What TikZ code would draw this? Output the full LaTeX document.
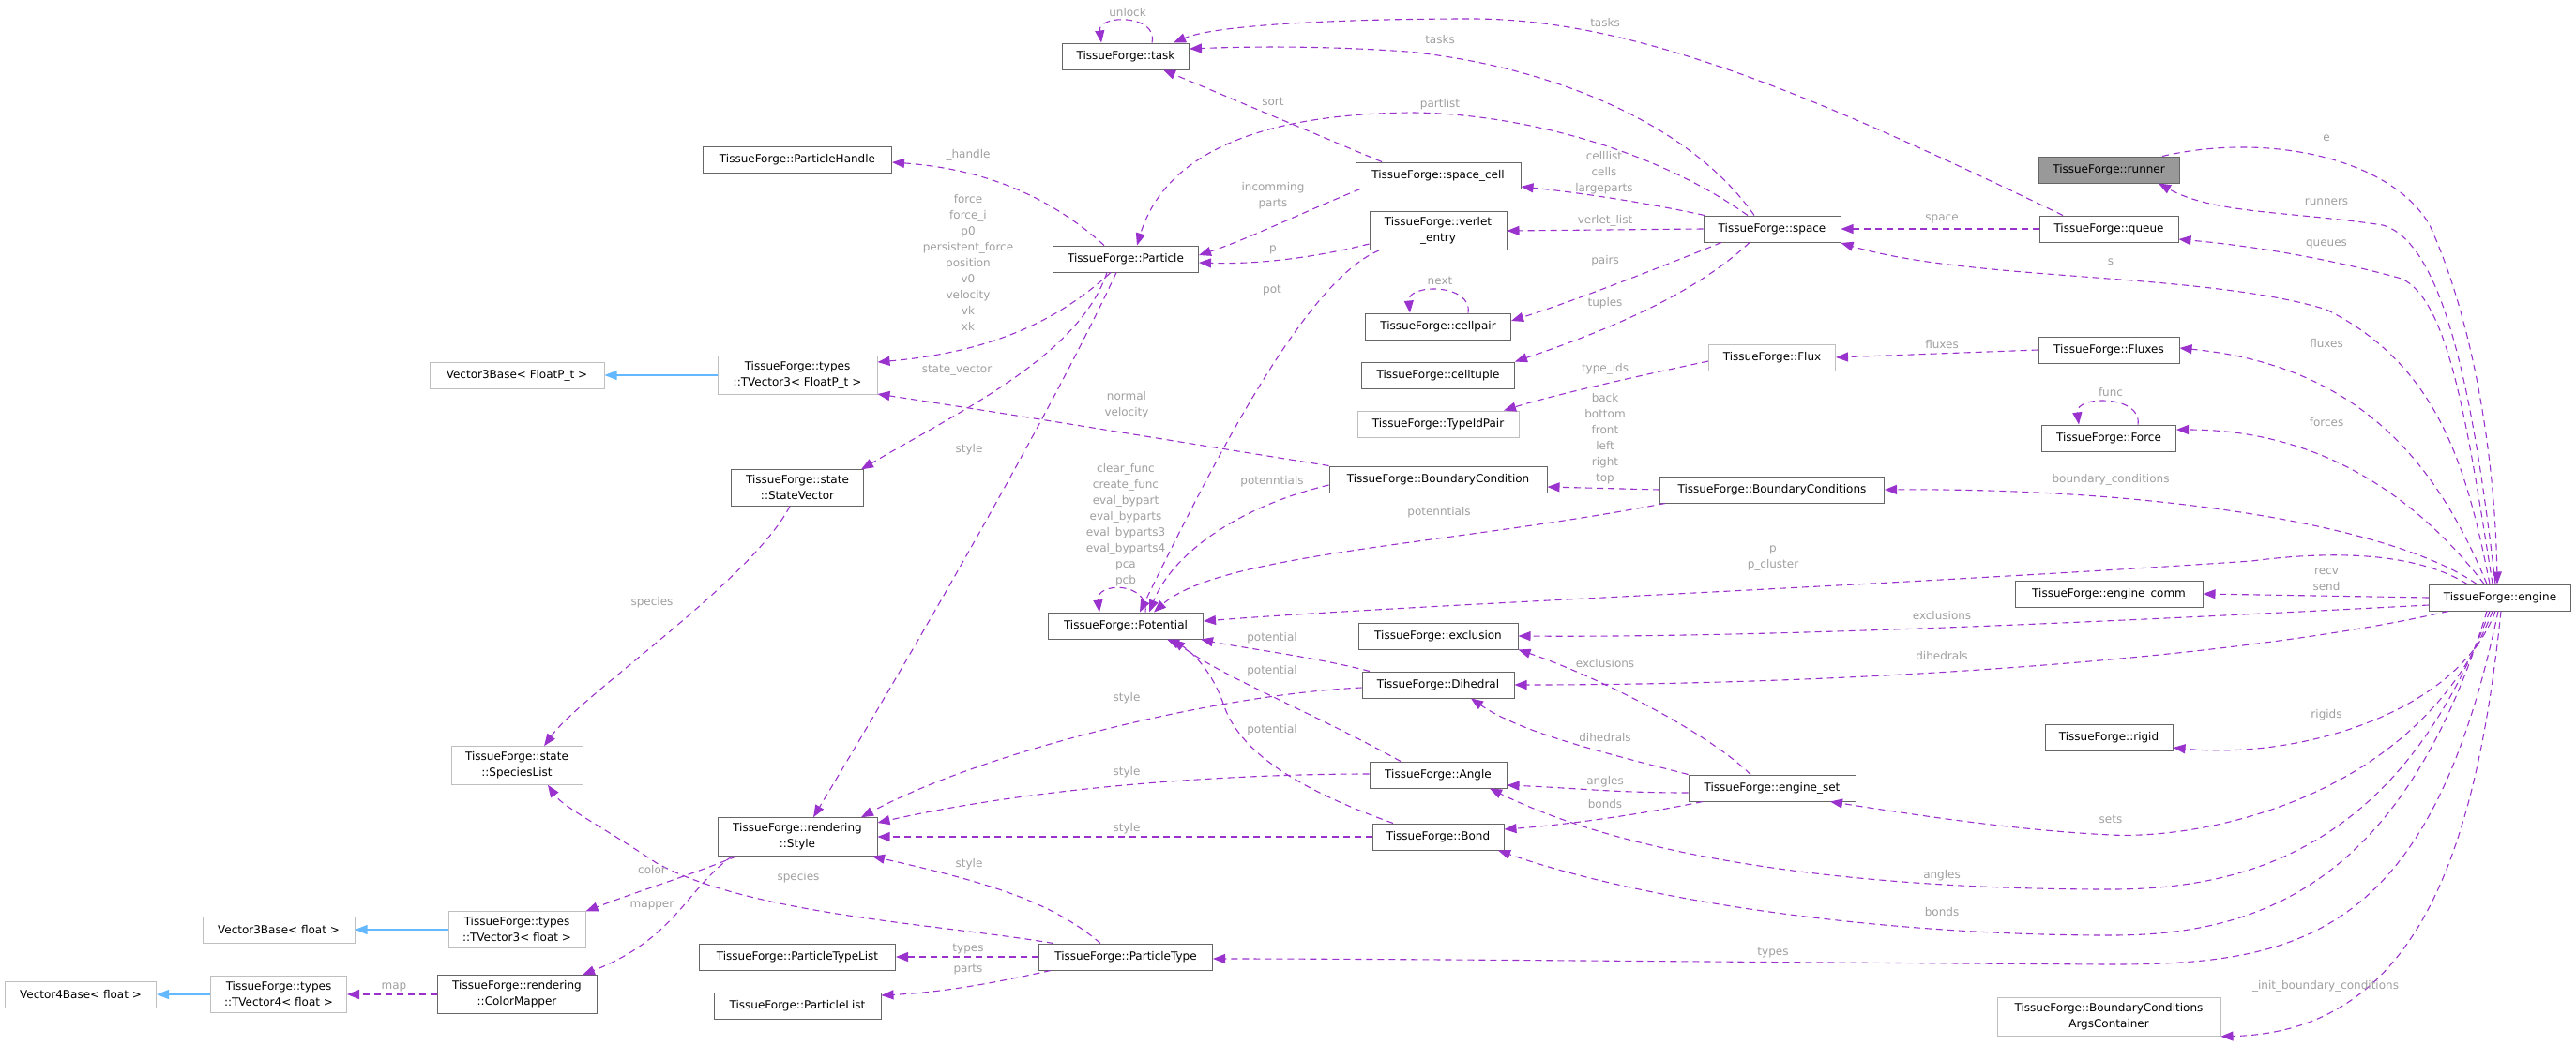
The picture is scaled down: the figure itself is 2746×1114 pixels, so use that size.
\documentclass[tikz,border=0pt]{standalone}
\usepackage{fontspec}
\setmainfont{DejaVu Sans}
\usetikzlibrary{arrows.meta,positioning}
\definecolor{edgecol}{HTML}{9A32CD}
\definecolor{inhcol}{HTML}{63B8FF}
\definecolor{lblcol}{HTML}{A0A0A0}
\definecolor{boxcol}{HTML}{666666}
\definecolor{extcol}{HTML}{BFBFBF}
\definecolor{rootcol}{HTML}{999999}

\begin{document}
\begin{tikzpicture}[x=1pt,y=-1pt,
  cls/.style={draw=boxcol,line width=1pt,fill=white,minimum height=28pt,inner xsep=4pt,inner ysep=6pt,align=center,font=\fontsize{12}{17}\selectfont},
  ext/.style={cls,draw=extcol},
  root/.style={cls,fill=rootcol},
  mem/.style={edgecol,line width=1.1pt,dash pattern=on 7pt off 5pt,-{Triangle[length=13pt,width=10pt]}},
  inh/.style={inhcol,line width=1.1pt,-{Triangle[length=13pt,width=10pt]}},
  lbl/.style={text=lblcol,align=center,inner sep=0pt,font=\fontsize{12}{17}\selectfont}]
\useasboundingbox[fill=white] (0,0) rectangle (2746,1114);

% classes
\node[cls,minimum width=135pt] (task) at (1200,60) {TissueForge::task};
\node[cls,minimum width=201pt] (phandle) at (850,170) {TissueForge::ParticleHandle};
\node[cls,minimum width=155pt] (particle) at (1200,276) {TissueForge::Particle};
\node[cls,minimum width=176pt] (spacecell) at (1533,187) {TissueForge::space\_cell};
\node[cls,minimum width=146pt] (verlet) at (1533,246) {TissueForge::verlet\\\_entry};
\node[cls,minimum width=146pt] (space) at (1889,244) {TissueForge::space};
\node[root,minimum width=150pt] (runner) at (2248,181) {TissueForge::runner};
\node[cls,minimum width=148pt] (queue) at (2248,244) {TissueForge::queue};
\node[cls,minimum width=155pt] (cellpair) at (1533,348) {TissueForge::cellpair};
\node[cls,minimum width=163pt] (celltuple) at (1533,400) {TissueForge::celltuple};
\node[ext,minimum width=135pt] (flux) at (1889,381) {TissueForge::Flux};
\node[ext,minimum width=172pt] (typeid) at (1533,452) {TissueForge::TypeIdPair};
\node[cls,minimum width=150pt] (fluxes) at (2248,373) {TissueForge::Fluxes};
\node[cls,minimum width=143pt] (force) at (2248,467) {TissueForge::Force};
\node[ext,minimum width=186pt] (vbaseP) at (551,400) {Vector3Base< FloatP\_t >};
\node[ext,minimum width=170pt] (tvecP) at (850,400) {TissueForge::types\\::TVector3< FloatP\_t >};
\node[cls,minimum width=141pt] (statevec) at (850,520) {TissueForge::state\\::StateVector};
\node[cls,minimum width=232pt] (bcond) at (1533,511) {TissueForge::BoundaryCondition};
\node[cls,minimum width=239pt] (bconds) at (1889,522) {TissueForge::BoundaryConditions};
\node[cls,minimum width=165pt] (potential) at (1200,667) {TissueForge::Potential};
\node[cls,minimum width=200pt] (ecomm) at (2248,633) {TissueForge::engine\_comm};
\node[cls,minimum width=151pt] (engine) at (2665,637) {TissueForge::engine};
\node[cls,minimum width=170pt] (exclusion) at (1533,678) {TissueForge::exclusion};
\node[cls,minimum width=162pt] (dihedral) at (1533,730) {TissueForge::Dihedral};
\node[cls,minimum width=136pt] (rigid) at (2248,786) {TissueForge::rigid};
\node[ext,minimum width=140pt] (species) at (551,816) {TissueForge::state\\::SpeciesList};
\node[cls,minimum width=146pt] (angle) at (1533,826) {TissueForge::Angle};
\node[cls,minimum width=178pt] (eset) at (1889,840) {TissueForge::engine\_set};
\node[cls,minimum width=170pt] (style) at (850,892) {TissueForge::rendering\\::Style};
\node[cls,minimum width=140pt] (bond) at (1533,892) {TissueForge::Bond};
\node[ext,minimum width=162pt] (vbase3) at (297,991) {Vector3Base< float >};
\node[ext,minimum width=146pt] (tvec3) at (551,991) {TissueForge::types\\::TVector3< float >};
\node[cls,minimum width=209pt] (ptypelist) at (850,1020) {TissueForge::ParticleTypeList};
\node[cls,minimum width=185pt] (ptype) at (1200,1020) {TissueForge::ParticleType};
\node[cls,minimum width=170pt] (colormap) at (551,1060) {TissueForge::rendering\\::ColorMapper};
\node[cls,minimum width=178pt] (plist) at (850,1072) {TissueForge::ParticleList};
\node[ext,minimum width=161pt] (vbase4) at (86,1060) {Vector4Base< float >};
\node[ext,minimum width=145pt] (tvec4) at (297,1060) {TissueForge::types\\::TVector4< float >};
\node[ext,minimum width=238pt] (bcargs) at (2248,1084) {TissueForge::BoundaryConditions\\ArgsContainer};

% inheritance
\draw[inh] (tvecP.west) -- (vbaseP.east);
\draw[inh] (tvec3.west) -- (vbase3.east);
\draw[inh] (tvec4.west) -- (vbase4.east);

% task, particle, space
\draw[mem] ([xshift=28pt]task.north) .. controls (1235,15) and (1170,15) .. ([xshift=-26pt]task.north) node[lbl] (l1) at (1202,13) {unlock};
\draw[mem] ([xshift=-19pt]space.north) .. controls (1800,130) and (1650,70) .. (1500,55) .. controls (1400,48) and (1320,50) .. ([yshift=8pt]task.east) node[lbl] (l2) at (1535,42) {tasks};
\draw[mem] ([xshift=-49pt]queue.north) .. controls (1950,110) and (1750,20) .. (1569,20) .. controls (1450,20) and (1300,25) .. ([xshift=51pt]task.north) node[lbl] (l3) at (1711,24) {tasks};
\draw[mem] ([xshift=-60pt]spacecell.north) -- ([xshift=40pt]task.south) node[lbl] (l4) at (1357,108) {sort};
\draw[mem] ([xshift=-26pt]space.north) .. controls (1750,150) and (1600,120) .. (1503,120) .. controls (1330,122) and (1240,170) .. ([xshift=12pt]particle.north) node[lbl] (l5) at (1535,111) {partlist};
\draw[mem] ([xshift=-83pt]spacecell.south) .. controls (1380,230) and (1330,255) .. ([yshift=4pt]particle.east) node[lbl] (l6) at (1357,209) {incomming\\parts};
\draw[mem] ([yshift=-14pt]verlet.west) .. controls (1400,275) and (1340,282) .. ([yshift=-4pt]particle.east) node[lbl] (l7) at (1357,266) {p};
\draw[mem] ([xshift=-23pt]particle.north) .. controls (1120,210) and (1050,180) .. ([yshift=-3pt]phandle.east) node[lbl] (l8) at (1032,165) {\_handle};
\draw[mem] ([xshift=-16pt]particle.south) .. controls (1130,340) and (1060,375) .. ([yshift=14pt]tvecP.east) node[lbl] (l9) at (1032,280) {force\\force\_i\\p0\\persistent\_force\\position\\v0\\velocity\\vk\\xk};
\draw[mem] ([xshift=-20pt]particle.south) .. controls (1150,380) and (1020,440) .. ([xshift=68pt]statevec.north) node[lbl] (l10) at (1020,395) {state\_vector};
\draw[mem] ([xshift=-10pt]particle.south) .. controls (1130,420) and (1000,650) .. ([xshift=17pt]style.north) node[lbl] (l11) at (1033,479) {style};
\draw[mem] ([xshift=-72pt]space.north) .. controls (1750,215) and (1680,205) .. ([yshift=-12pt]spacecell.east) node[lbl] (l12) at (1710,184) {celllist\\cells\\largeparts};
\draw[mem] (space.west) -- (verlet.east) node[lbl] (l13) at (1711,235) {verlet\_list};
\draw[mem] ([xshift=-54pt]space.south) .. controls (1770,285) and (1680,320) .. ([yshift=6pt]cellpair.east) node[lbl] (l14) at (1711,278) {pairs};
\draw[mem] ([xshift=-24pt]space.south) .. controls (1800,320) and (1690,360) .. (celltuple.north east) node[lbl] (l15) at (1711,323) {tuples};
\draw[mem] ([xshift=32pt]cellpair.north) .. controls (1570,302) and (1500,302) .. ([xshift=-30pt]cellpair.north) node[lbl] (l16) at (1535,299) {next};
\draw[mem] ([xshift=-63pt]verlet.south) .. controls (1390,300) and (1290,500) .. ([xshift=15pt]potential.north) node[lbl] (l17) at (1356,310) {pot};
\draw[mem] (queue.west) -- (space.east) node[lbl] (l18) at (2070,233) {space};

% engine, runner
\draw[mem] ([xshift=57pt]runner.north) .. controls (2420,140) and (2550,170) .. (2590,240) .. controls (2640,350) and (2660,500) .. ([xshift=-3pt]engine.north) node[lbl] (l19) at (2480,147) {e};
\draw[mem] ([xshift=-5pt]engine.north) .. controls (2640,450) and (2610,260) .. (2540,240) .. controls (2440,225) and (2360,228) .. ([xshift=53pt]runner.south) node[lbl] (l20) at (2480,215) {runners};
\draw[mem] ([xshift=-8pt]engine.north) .. controls (2630,450) and (2610,320) .. (2560,297) .. controls (2480,275) and (2400,262) .. ([yshift=-11pt]queue.east) node[lbl] (l21) at (2480,260) {queues};
\draw[mem] ([xshift=-11pt]engine.north) .. controls (2630,500) and (2600,390) .. (2480,330) .. controls (2350,290) and (2100,300) .. ([yshift=-15pt]space.east) node[lbl] (l22) at (2250,279) {s};
\draw[mem] ([yshift=-4pt]flux.west) .. controls (1750,400) and (1660,420) .. ([xshift=70pt]typeid.north) node[lbl] (l23) at (1711,393) {type\_ids};
\draw[mem] (fluxes.west) -- (flux.east) node[lbl] (l24) at (2070,367) {fluxes};
\draw[mem] ([xshift=-14pt]engine.north) .. controls (2600,500) and (2520,390) .. ([yshift=2pt]fluxes.east) node[lbl] (l25) at (2480,366) {fluxes};
\draw[mem] ([xshift=31pt]force.north) .. controls (2284,421) and (2212,421) .. ([xshift=-32pt]force.north) node[lbl] (l26) at (2250,418) {func};
\draw[mem] ([xshift=-17pt]engine.north) .. controls (2600,560) and (2500,458) .. ([yshift=9pt]force.east) node[lbl] (l27) at (2480,450) {forces};

% boundary conditions, potential
\draw[mem] (bcond.north west) .. controls (1250,470) and (1100,445) .. ([yshift=-20pt]tvecP.east) node[lbl] (l28) at (1201,432) {normal\\velocity};
\draw[mem] ([yshift=-6pt]bcond.west) .. controls (1320,540) and (1250,590) .. ([xshift=25pt]potential.north) node[lbl] (l29) at (1356,513) {potenntials};
\draw[mem] (bconds.west) -- ([yshift=-8pt]bcond.east) node[lbl] (l30) at (1711,468) {back\\bottom\\front\\left\\right\\top};
\draw[mem] ([xshift=-114pt]bconds.south) .. controls (1550,580) and (1300,590) .. ([xshift=30pt]potential.north) node[lbl] (l31) at (1534,546) {potenntials};
\draw[mem] ([xshift=-25pt]engine.north) .. controls (2550,560) and (2300,520) .. (bconds.east) node[lbl] (l32) at (2250,511) {boundary\_conditions};
\draw[mem] ([xshift=21pt]potential.north) .. controls (1225,620) and (1168,620) .. ([xshift=-28pt]potential.north) node[lbl] (l33) at (1200,560) {clear\_func\\create\_func\\eval\_bypart\\eval\_byparts\\eval\_byparts3\\eval\_byparts4\\pca\\pcb};
\draw[mem] ([xshift=-35pt]engine.north) .. controls (2580,592) and (2500,585) .. (2400,598) .. controls (2000,625) and (1500,645) .. ([yshift=5pt]potential.east) node[lbl] (l34) at (1890,595) {p\\p\_cluster};
\draw[mem] (engine.west) -- (ecomm.east) node[lbl] (l35) at (2480,618) {recv\\send};
\draw[mem] ([yshift=-8pt]engine.west) .. controls (2300,660) and (1900,680) .. (exclusion.east) node[lbl] (l36) at (2070,656) {exclusions};
\draw[mem] ([xshift=-55pt]engine.south) .. controls (2400,700) and (2000,730) .. (dihedral.east) node[lbl] (l37) at (2070,699) {dihedrals};

% bonded interactions
\draw[mem] ([xshift=-73pt]dihedral.north) .. controls (1400,700) and (1320,690) .. ([xshift=80pt]potential.south) node[lbl] (l38) at (1356,680) {potential};
\draw[mem] ([yshift=-3pt]dihedral.west) .. controls (1300,740) and (1050,800) .. ([xshift=68pt]style.north) node[lbl] (l39) at (1201,744) {style};
\draw[mem] ([xshift=-40pt]angle.north) .. controls (1400,760) and (1300,720) .. ([xshift=50pt]potential.south) node[lbl] (l40) at (1356,715) {potential};
\draw[mem] ([xshift=-48pt]bond.north) .. controls (1380,840) and (1320,800) .. (1304,750) .. controls (1290,710) and (1265,690) .. ([xshift=44pt]potential.south) node[lbl] (l41) at (1356,778) {potential};
\draw[mem] ([yshift=1pt]angle.west) .. controls (1300,825) and (1100,840) .. ([yshift=15pt]style.east) node[lbl] (l42) at (1201,823) {style};
\draw[mem] (bond.west) -- (style.east) node[lbl] (l43) at (1201,883) {style};
\draw[mem] ([xshift=-23pt]eset.north) .. controls (1820,780) and (1700,720) .. (exclusion.south east) node[lbl] (l44) at (1711,707) {exclusions};
\draw[mem] (eset.north west) .. controls (1700,800) and (1620,780) .. ([xshift=35pt]dihedral.south) node[lbl] (l45) at (1711,786) {dihedrals};
\draw[mem] ([yshift=-5pt]eset.west) .. controls (1720,845) and (1680,840) .. ([yshift=-11pt]angle.east) node[lbl] (l46) at (1711,833) {angles};
\draw[mem] ([xshift=-74pt]eset.south) .. controls (1740,870) and (1660,880) .. ([yshift=8pt]bond.east) node[lbl] (l47) at (1711,857) {bonds};
\draw[mem] ([xshift=-5pt]engine.south) .. controls (2620,760) and (2450,810) .. ([yshift=-11pt]rigid.east) node[lbl] (l48) at (2480,762) {rigids};
\draw[mem] ([xshift=-8pt]engine.south) .. controls (2580,850) and (2350,895) .. (2250,890) .. controls (2150,885) and (2050,870) .. ([xshift=62pt]eset.south) node[lbl] (l49) at (2250,873) {sets};
\draw[mem] ([xshift=-11pt]engine.south) .. controls (2560,900) and (2400,948) .. (2250,948) .. controls (2000,948) and (1750,920) .. ([xshift=55pt]angle.south) node[lbl] (l50) at (2070,933) {angles};
\draw[mem] ([xshift=-14pt]engine.south) .. controls (2560,950) and (2400,997) .. (2250,997) .. controls (2000,997) and (1750,960) .. ([xshift=64pt]bond.south) node[lbl] (l51) at (2070,972) {bonds};
\draw[mem] ([xshift=-2pt]engine.south) .. controls (2590,1000) and (2450,1028) .. (2250,1028) .. controls (1900,1026) and (1500,1022) .. ([yshift=-2pt]ptype.east) node[lbl] (l52) at (1890,1016) {types};
\draw[mem] ([xshift=1pt]engine.south) .. controls (2640,900) and (2580,1100) .. (bcargs.south east) node[lbl] (l53) at (2479,1051) {\_init\_boundary\_conditions};

% particle types, rendering
\draw[mem] ([xshift=-8pt]statevec.south) .. controls (800,620) and (620,740) .. ([xshift=29pt]species.north) node[lbl] (l54) at (695,642) {species};
\draw[mem] ([xshift=-77pt]ptype.north) .. controls (1000,985) and (800,975) .. (700,920) .. controls (640,880) and (600,860) .. ([xshift=33pt]species.south) node[lbl] (l55) at (851,935) {species};
\draw[mem] ([xshift=-27pt]ptype.north) .. controls (1120,960) and (1050,940) .. ([xshift=80pt]style.south) node[lbl] (l56) at (1033,921) {style};
\draw[mem] ([xshift=-65pt]style.south) .. controls (730,935) and (680,950) .. (tvec3.north east) node[lbl] (l57) at (695,927) {color};
\draw[mem] ([xshift=-70pt]style.south) .. controls (730,950) and (720,1000) .. ([xshift=70pt]colormap.north) node[lbl] (l58) at (695,965) {mapper};
\draw[mem] (colormap.west) -- (tvec4.east) node[lbl] (l59) at (420,1052) {map};
\draw[mem] (ptype.west) -- (ptypelist.east) node[lbl] (l60) at (1032,1012) {types};
\draw[mem] ([xshift=-80pt]ptype.south) .. controls (1050,1050) and (1000,1058) .. ([yshift=11pt]plist.east) node[lbl] (l61) at (1032,1034) {parts};
\end{tikzpicture}
\end{document}
